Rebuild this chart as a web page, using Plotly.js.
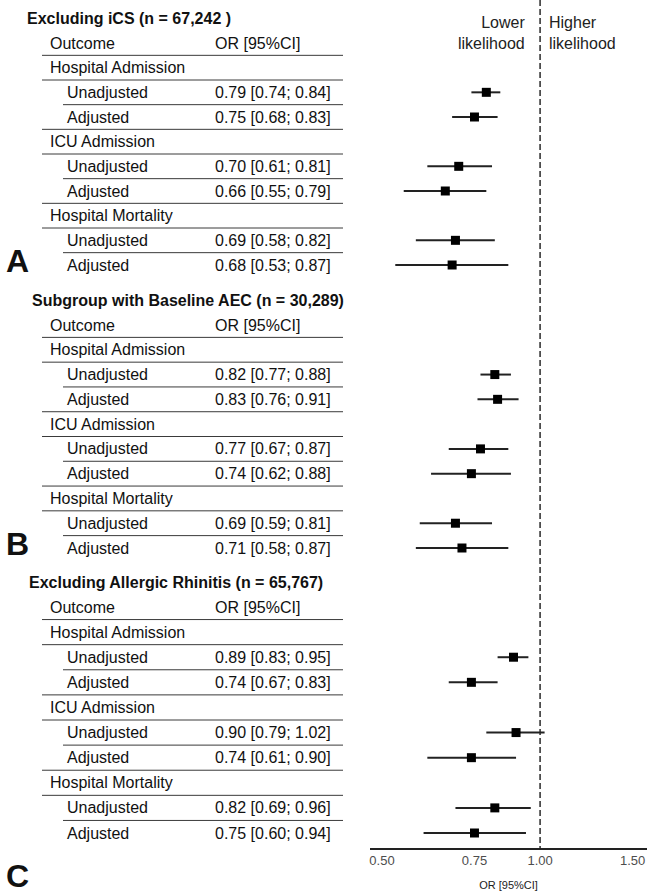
<!DOCTYPE html>
<html>
<head>
<meta charset="utf-8">
<script src="https://cdn.plot.ly/plotly-3.0.1.min.js"></script>
<style>html,body{margin:0;padding:0;background:#fff;}#chart{width:647px;height:896px;}</style>
</head>
<body>
<div id="chart"></div>
<script>
// ---------- data ----------
const panelTitles = ['Excluding iCS (n = 67,242 )', 'Subgroup with Baseline AEC (n = 30,289)', 'Excluding Allergic Rhinitis (n = 65,767)'];
const panelLetters = ['A', 'B', 'C'];
const outcomes = ['Hospital Admission', 'ICU Admission', 'Hospital Mortality'];
const models = ['Unadjusted', 'Adjusted'];
const headerLabels = ['Outcome', 'OR [95%CI]'];

// order per panel: HospAdm U, HospAdm A, ICU U, ICU A, Mort U, Mort A
const orA = [0.79, 0.75, 0.70, 0.66, 0.69, 0.68];
const loA = [0.74, 0.68, 0.61, 0.55, 0.58, 0.53];
const hiA = [0.84, 0.83, 0.81, 0.79, 0.82, 0.87];

const orB = [0.82, 0.83, 0.77, 0.74, 0.69, 0.71];
const loB = [0.77, 0.76, 0.67, 0.62, 0.59, 0.58];
const hiB = [0.88, 0.91, 0.87, 0.88, 0.81, 0.87];

const orC = [0.89, 0.74, 0.90, 0.74, 0.82, 0.75];
const loC = [0.83, 0.67, 0.79, 0.61, 0.69, 0.60];
const hiC = [0.95, 0.83, 1.02, 0.90, 0.96, 0.94];

const xTickVals = [0.5, 0.75, 1, 1.5];
const xTickText = ['0.50', '0.75', '1.00', '1.50'];
const xTitle = 'OR [95%CI]';
const noteLower = 'Lower<br>likelihood';
const noteHigher = 'Higher<br>likelihood';

// ---------- layout helpers (pixel based) ----------
const W = 647, H = 896;
const axisY = 848;
const headerY = [43, 325, 607];
const lastY = [265, 548, 833];
const titleX = [25, 30, 27];
const letterY = [261, 544, 896];
const letterAnchor = ['middle', 'middle', 'bottom'];
const px = v => v / W;
const FONT = 'Liberation Sans, Arial, Helvetica, sans-serif';
const TXT = '#111';

const panels = [[orA, loA, hiA], [orB, loB, hiB], [orC, loC, hiC]];
const fmt = v => v.toFixed(2);

const annotations = [];
const shapes = [];
const traces = [];

function ann(x, y, text, opts) {
  annotations.push(Object.assign({
    xref: 'paper', yref: 'y', x: px(x), y: y, text: text, showarrow: false,
    xanchor: 'left', yanchor: 'middle', font: {family: FONT, size: 16, color: TXT}
  }, opts || {}));
}
function hline(x0, y) {
  shapes.push({type: 'line', xref: 'paper', yref: 'y', x0: px(x0), x1: px(343), y0: y, y1: y,
    line: {color: '#3a3a3a', width: 1}});
}

panels.forEach((p, pi) => {
  const [or, lo, hi] = p;
  const step = (lastY[pi] - headerY[pi]) / 9;
  const rowY = k => headerY[pi] + step * k;

  ann(titleX[pi], headerY[pi] - 25, '<b>' + panelTitles[pi] + '</b>', {font: {family: FONT, size: 16, color: TXT}});
  ann(4, letterY[pi], '<b>' + panelLetters[pi] + '</b>', {yanchor: letterAnchor[pi], font: {family: FONT, size: 32, color: TXT}});
  ann(48, rowY(0), headerLabels[0]);
  ann(213, rowY(0), headerLabels[1]);
  hline(42, rowY(0.5));

  const ys = [];
  outcomes.forEach((o, g) => {
    const kg = 1 + 3 * g;
    ann(48, rowY(kg), o);
    hline(42, rowY(kg + 0.5));
    models.forEach((m, mi) => {
      const k = kg + 1 + mi;
      const i = 2 * g + mi;
      ann(65, rowY(k), m);
      ann(213, rowY(k), fmt(or[i]) + ' [' + fmt(lo[i]) + '; ' + fmt(hi[i]) + ']');
      ys.push(rowY(k));
      if (mi === 0) hline(63, rowY(k + 0.5));
      else if (g < outcomes.length - 1) hline(42, rowY(k + 0.5));
    });
  });

  traces.push({
    type: 'scatter', mode: 'markers', x: or, y: ys,
    marker: {symbol: 'square', size: 9, color: '#000'},
    error_x: {type: 'data', symmetric: false,
      array: or.map((v, i) => hi[i] - v), arrayminus: or.map((v, i) => v - lo[i]),
      width: 0, thickness: 2, color: '#222'},
    showlegend: false, hoverinfo: 'x'
  });
});

// reference line at OR = 1
traces.unshift({
  type: 'scatter', mode: 'lines', x: [1, 1], y: [0, axisY],
  line: {color: '#2a2a2a', width: 1.5, dash: '6px,3px'}, showlegend: false, hoverinfo: 'skip'
});

ann(527, 33, noteLower, {xanchor: 'right', align: 'right', font: {family: FONT, size: 16, color: '#222'}});
ann(547, 33, noteHigher, {xanchor: 'left', align: 'left', font: {family: FONT, size: 16, color: '#222'}});

const lnMin = Math.log10(0.4744), lnMax = Math.log10(1.598);

const layout = {
  width: W, height: H,
  margin: {l: 0, r: 0, t: 0, b: 0, pad: 0},
  paper_bgcolor: '#fff', plot_bgcolor: 'rgba(0,0,0,0)',
  font: {family: FONT, color: TXT},
  xaxis: {
    type: 'log', domain: [370 / W, 1], range: [lnMin, lnMax],
    anchor: 'free', position: 1 - axisY / H,
    tickvals: xTickVals, ticktext: xTickText, ticks: '',
    showline: true, linecolor: '#222', linewidth: 1.5,
    showgrid: false, zeroline: false,
    tickfont: {family: FONT, size: 13, color: '#4d4d4d'},
    title: {text: xTitle, font: {family: FONT, size: 11, color: '#222'}, standoff: 14}
  },
  yaxis: {range: [H, 0], domain: [0, 1], visible: false, fixedrange: true},
  annotations: annotations,
  shapes: shapes,
  showlegend: false
};

Plotly.newPlot('chart', traces, layout, {displayModeBar: false, staticPlot: true});
</script>
</body>
</html>
